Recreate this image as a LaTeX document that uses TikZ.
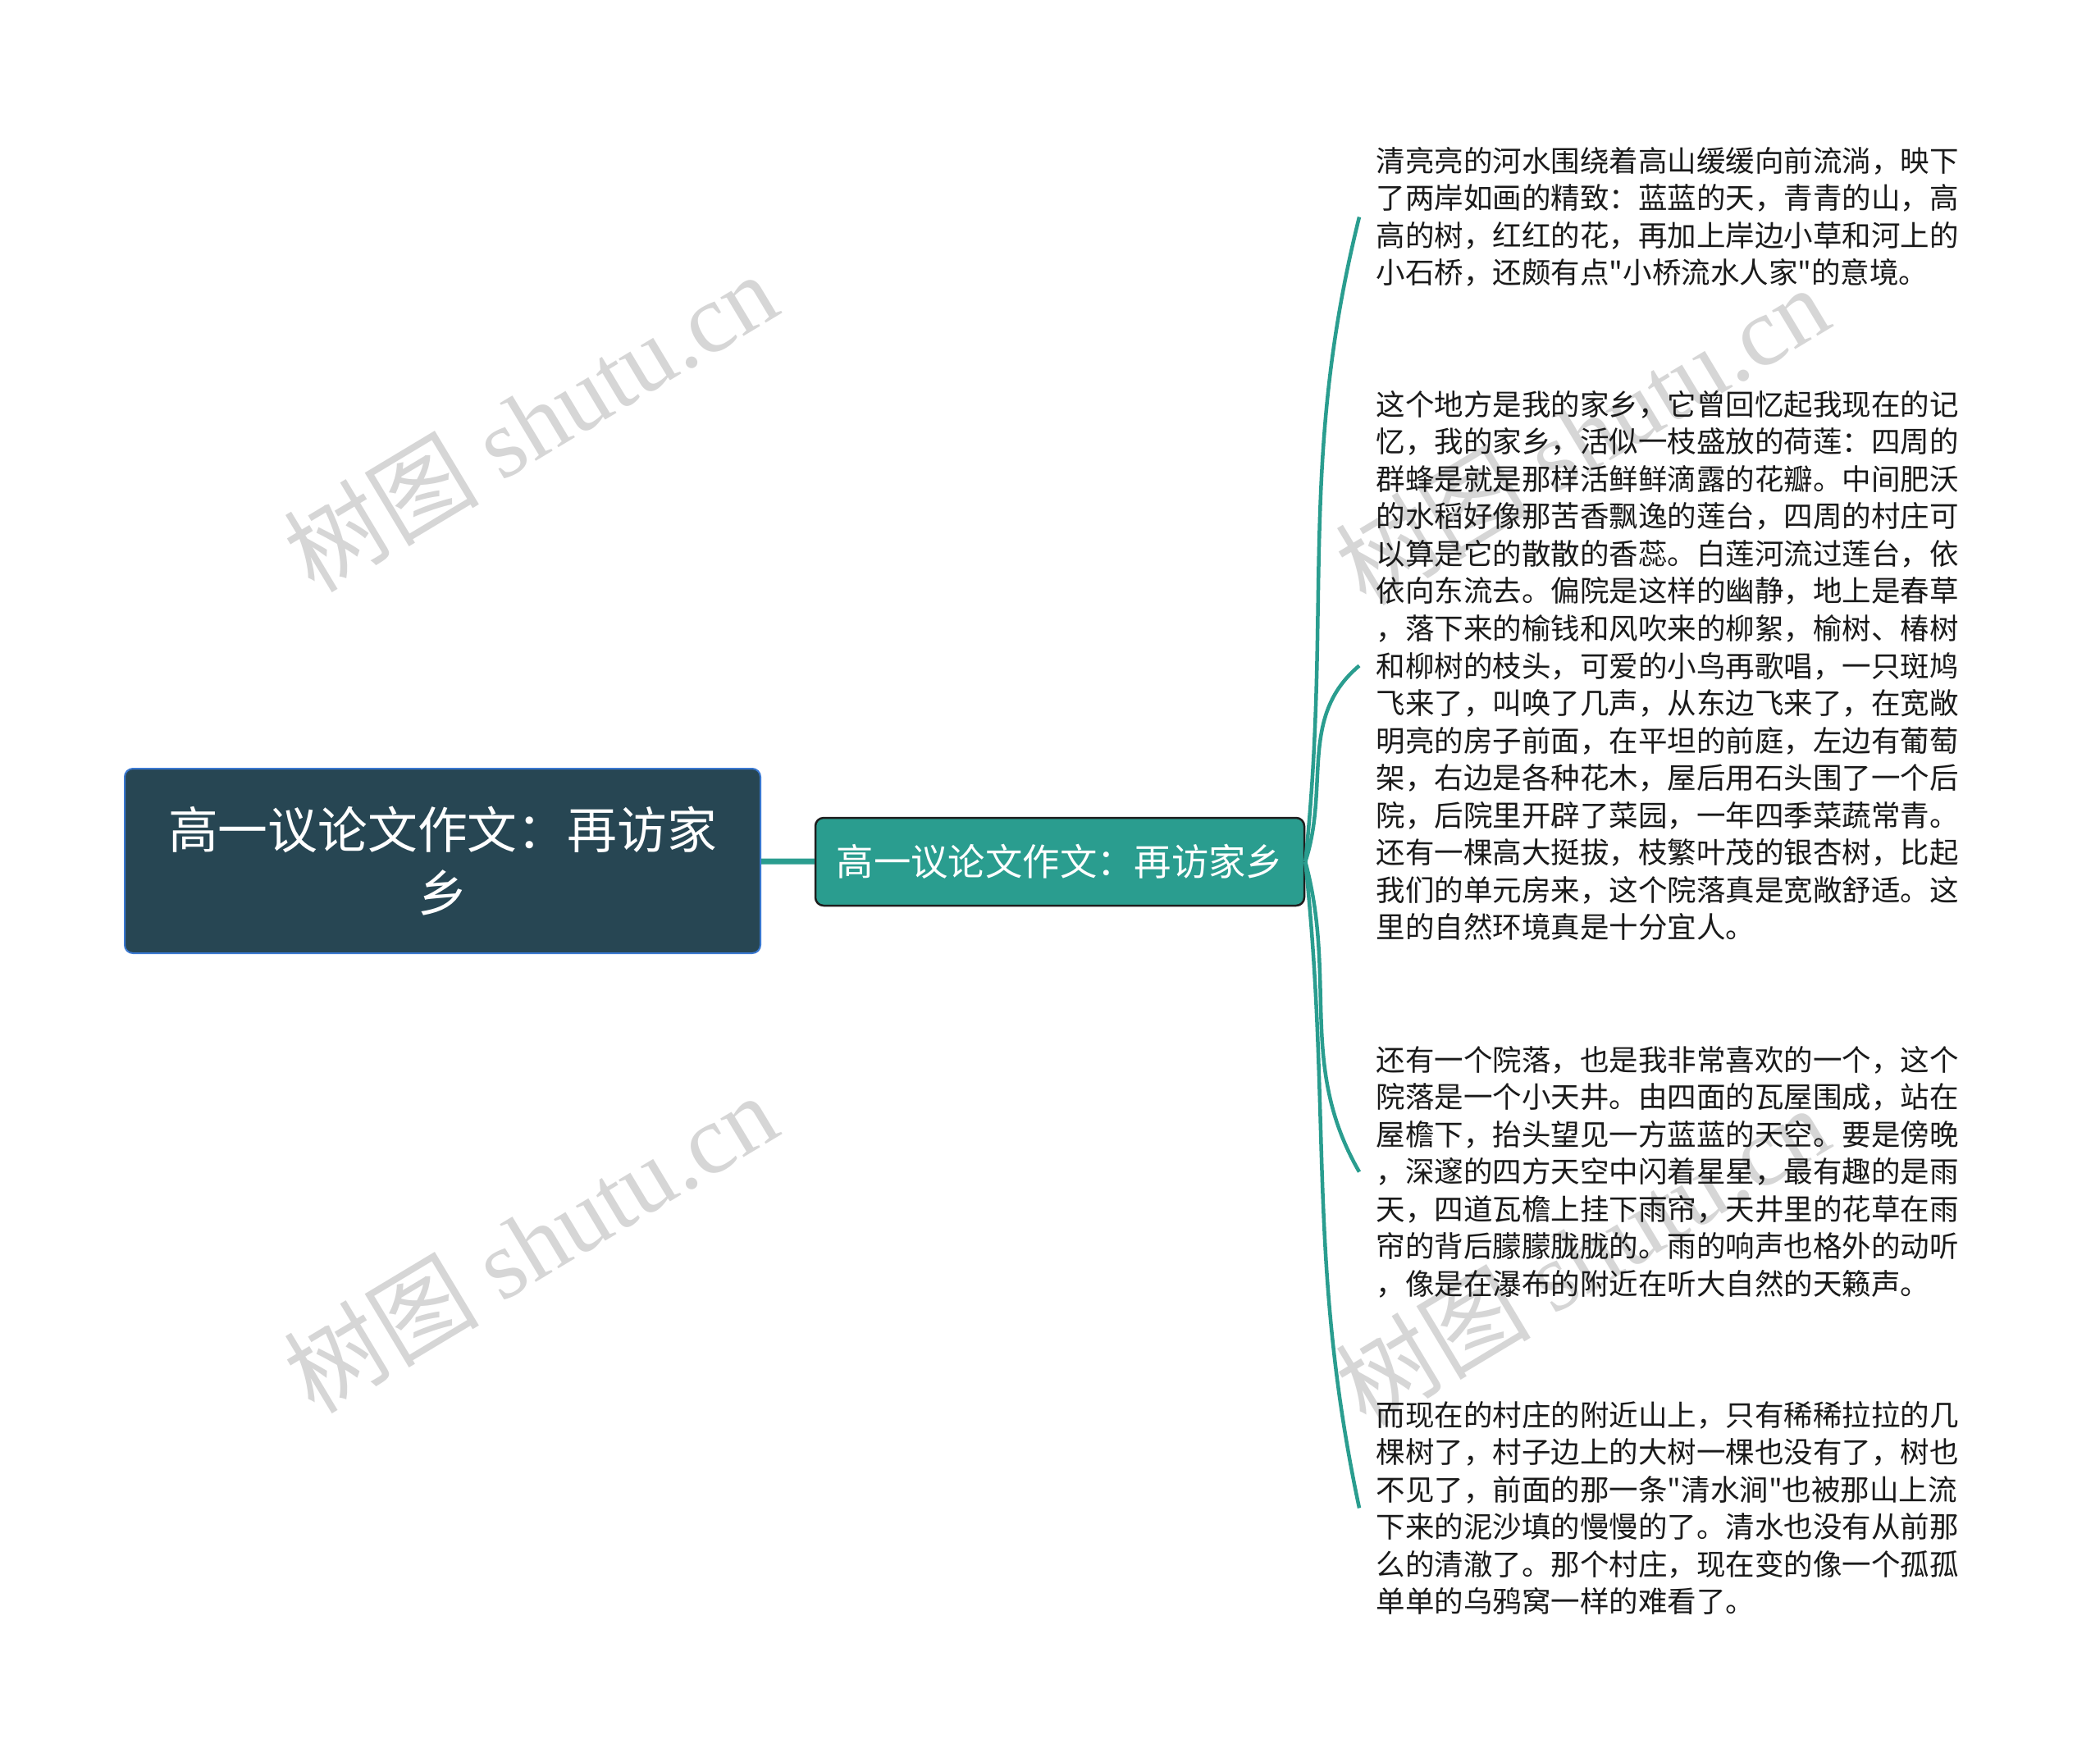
\documentclass[tikz,border=0pt]{standalone}
\usepackage{fontspec}
\newfontfamily\cjk{Noto Sans CJK SC}
\newfontfamily\wmfont{Liberation Serif}
\definecolor{rootfill}{HTML}{274653}
\definecolor{rootline}{HTML}{3A78D0}
\definecolor{branchteal}{HTML}{2A9D8F}
\definecolor{branchline}{HTML}{1E1E1E}
\definecolor{leaftext}{HTML}{1A1A1A}
\definecolor{wmgray}{HTML}{D6D6D6}
\begin{document}
\begin{tikzpicture}
  \tikzstyle{rootbox}=[rectangle,rounded corners=0.1cm,draw=rootline,line width=0.02cm,fill=rootfill,text=white,minimum width=7.75cm,minimum height=2.25cm,align=center,font=\cjk\fontsize{17.3pt}{21.8pt}\selectfont]
  \tikzstyle{branchbox}=[rectangle,rounded corners=0.1cm,draw=branchline,line width=0.025cm,fill=branchteal,text=white,minimum width=5.96cm,minimum height=1.07cm,inner sep=0pt,font=\cjk\fontsize{12.9pt}{15pt}\selectfont]
  \tikzstyle{leaf}=[anchor=west,inner xsep=0.2cm,inner ysep=0pt,align=left,text=leaftext,font=\cjk\fontsize{10.1pt}{12.96pt}\selectfont]
  \tikzstyle{link}=[draw=branchteal,line width=0.045cm]
  \tikzstyle{watermark}=[text=wmgray,rotate=31,font=\fontsize{34pt}{34pt}\selectfont]

  \path[fill=white] (0,0) rectangle (25.6,-21.47);

  \foreach \name/\x/\y in {W-1/6.46/-5.14, W-2/6.46/-15.15, W-3/19.28/-5.30, W-4/19.28/-15.30}
    \node[watermark] (\name) at (\x,\y) {\cjk 树图 \wmfont shutu.cn};

  \node[rootbox] (root) at (5.395,-10.495) {高一议论文作文：再访家\\乡};
  \node[branchbox] (branch) at (12.92,-10.505) {高一议论文作文：再访家乡};
  \draw[link,line width=0.07cm] (root) -- (branch);

  \node[leaf] (L-1) at (16.57,-2.645) {清亮亮的河水围绕着高山缓缓向前流淌，映下\\
了两岸如画的精致：蓝蓝的天，青青的山，高\\
高的树，红红的花，再加上岸边小草和河上的\\
小石桥，还颇有点"小桥流水人家"的意境。};

  \node[leaf] (L-2) at (16.57,-8.115) {这个地方是我的家乡，它曾回忆起我现在的记\\
忆，我的家乡，活似一枝盛放的荷莲：四周的\\
群蜂是就是那样活鲜鲜滴露的花瓣。中间肥沃\\
的水稻好像那苦香飘逸的莲台，四周的村庄可\\
以算是它的散散的香蕊。白莲河流过莲台，依\\
依向东流去。偏院是这样的幽静，地上是春草\\
，落下来的榆钱和风吹来的柳絮，榆树、椿树\\
和柳树的枝头，可爱的小鸟再歌唱，一只斑鸠\\
飞来了，叫唤了几声，从东边飞来了，在宽敞\\
明亮的房子前面，在平坦的前庭，左边有葡萄\\
架，右边是各种花木，屋后用石头围了一个后\\
院，后院里开辟了菜园，一年四季菜蔬常青。\\
还有一棵高大挺拔，枝繁叶茂的银杏树，比起\\
我们的单元房来，这个院落真是宽敞舒适。这\\
里的自然环境真是十分宜人。};

  \node[leaf] (L-3) at (16.57,-14.286) {还有一个院落，也是我非常喜欢的一个，这个\\
院落是一个小天井。由四面的瓦屋围成，站在\\
屋檐下，抬头望见一方蓝蓝的天空。要是傍晚\\
，深邃的四方天空中闪着星星，最有趣的是雨\\
天，四道瓦檐上挂下雨帘，天井里的花草在雨\\
帘的背后朦朦胧胧的。雨的响声也格外的动听\\
，像是在瀑布的附近在听大自然的天籁声。};

  \node[leaf] (L-4) at (16.57,-18.384) {而现在的村庄的附近山上，只有稀稀拉拉的几\\
棵树了，村子边上的大树一棵也没有了，树也\\
不见了，前面的那一条"清水涧"也被那山上流\\
下来的泥沙填的慢慢的了。清水也没有从前那\\
么的清澈了。那个村庄，现在变的像一个孤孤\\
单单的乌鸦窝一样的难看了。};

  \foreach \to/\out/\in in {1/84/256, 2/72/220, 3/-75/120, 4/-84/102}
    { \draw[link] (branch.east) to[out=\out,in=\in] (L-\to.west); }
\end{tikzpicture}
\end{document}
